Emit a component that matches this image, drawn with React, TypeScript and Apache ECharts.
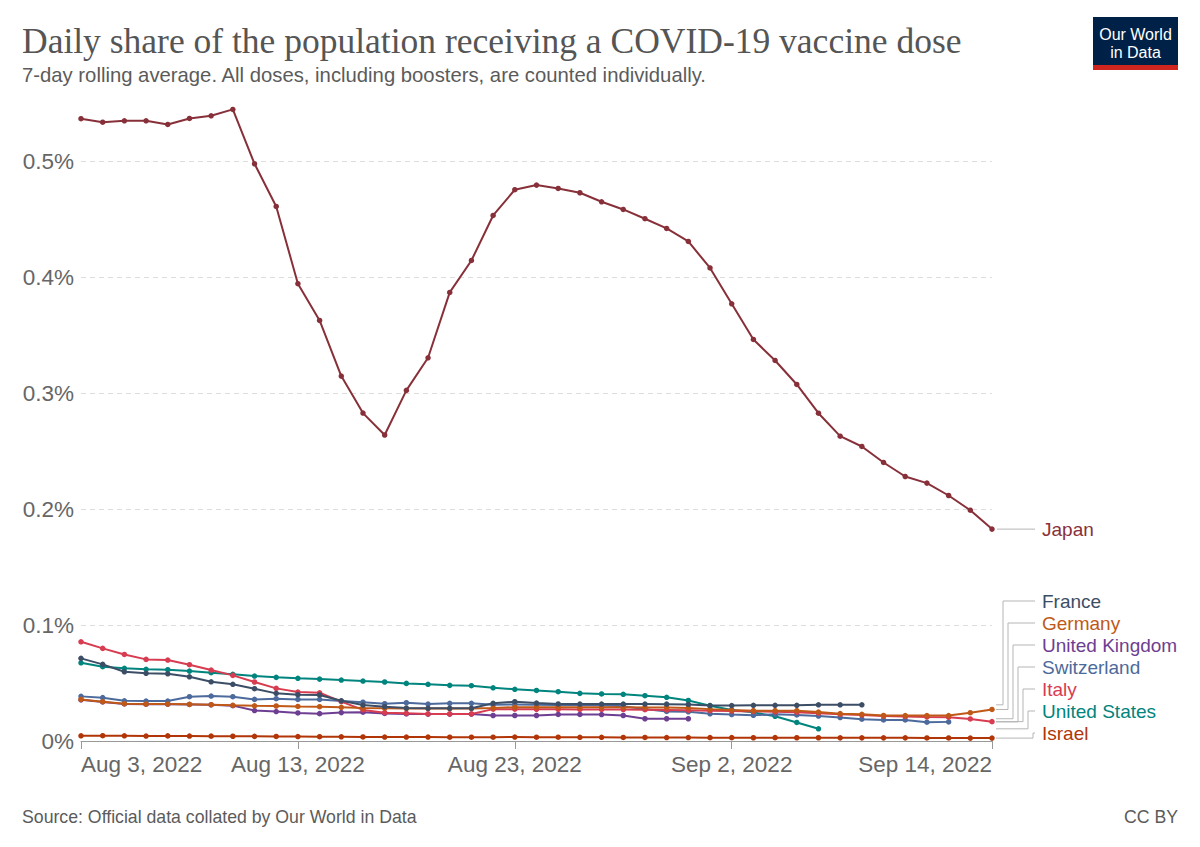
import React, { useEffect, useRef } from "react";
import * as echarts from "echarts";

const dates = [
  "2022-08-03", "2022-08-04", "2022-08-05", "2022-08-06", "2022-08-07", "2022-08-08", "2022-08-09",
  "2022-08-10", "2022-08-11", "2022-08-12", "2022-08-13", "2022-08-14", "2022-08-15", "2022-08-16",
  "2022-08-17", "2022-08-18", "2022-08-19", "2022-08-20", "2022-08-21", "2022-08-22", "2022-08-23",
  "2022-08-24", "2022-08-25", "2022-08-26", "2022-08-27", "2022-08-28", "2022-08-29", "2022-08-30",
  "2022-08-31", "2022-09-01", "2022-09-02", "2022-09-03", "2022-09-04", "2022-09-05", "2022-09-06",
  "2022-09-07", "2022-09-08", "2022-09-09", "2022-09-10", "2022-09-11", "2022-09-12", "2022-09-13",
  "2022-09-14",
];
const tickDates = ["2022-08-03", "2022-08-13", "2022-08-23", "2022-09-02", "2022-09-14"];
const tickLabels = ["Aug 3, 2022", "Aug 13, 2022", "Aug 23, 2022", "Sep 2, 2022", "Sep 14, 2022"];

const japan = [
  0.5369, 0.5339, 0.5351, 0.5351, 0.5319, 0.5371, 0.5394, 0.5449, 0.498, 0.4612,
  0.3945, 0.3628, 0.3148, 0.2829, 0.264, 0.3025, 0.3306, 0.387, 0.4146, 0.4534,
  0.4756, 0.4796, 0.4767, 0.473, 0.4652, 0.4586, 0.4506, 0.4422, 0.431, 0.4081,
  0.3772, 0.3464, 0.3283, 0.3076, 0.2828, 0.263, 0.2541, 0.2403, 0.2282, 0.2225,
  0.2118, 0.1991, 0.1828,
];
const france = [
  0.0713, 0.0661, 0.0597, 0.0584, 0.058, 0.0554, 0.0511, 0.0489, 0.0451, 0.0411,
  0.04, 0.0397, 0.0347, 0.031, 0.0296, 0.0284, 0.0282, 0.0282, 0.0282, 0.0325,
  0.0339, 0.0327, 0.032, 0.0319, 0.0319, 0.0319, 0.0319, 0.0318, 0.0315, 0.0306,
  0.0306, 0.0308, 0.0308, 0.0308, 0.0312, 0.0312, 0.0312,
];
const germany = [
  0.0359, 0.0339, 0.0322, 0.0319, 0.0319, 0.0316, 0.0313, 0.0308, 0.0304, 0.0302,
  0.0298, 0.0296, 0.0291, 0.0284, 0.0282, 0.028, 0.028, 0.028, 0.028, 0.0285,
  0.0292, 0.0292, 0.0292, 0.0291, 0.0291, 0.0291, 0.029, 0.0289, 0.0285, 0.0275,
  0.0267, 0.0262, 0.0262, 0.0262, 0.025, 0.0236, 0.023, 0.022, 0.0219, 0.0219,
  0.0219, 0.0244, 0.0272,
];
const unitedKingdom = [
  0.0355, 0.0337, 0.032, 0.0318, 0.0318, 0.0315, 0.0312, 0.0305, 0.0263, 0.0254,
  0.0242, 0.0236, 0.0245, 0.0249, 0.0238, 0.0234, 0.0232, 0.0232, 0.0232, 0.022,
  0.022, 0.022, 0.0229, 0.0229, 0.0228, 0.022, 0.0192, 0.0192, 0.0192,
];
const switzerland = [
  0.0385, 0.0374, 0.0347, 0.0345, 0.0345, 0.0382, 0.0388, 0.0382, 0.0359, 0.0365,
  0.0359, 0.0359, 0.0345, 0.0335, 0.0322, 0.033, 0.0319, 0.0325, 0.0325, 0.0312,
  0.0315, 0.0312, 0.031, 0.031, 0.0308, 0.03, 0.0275, 0.0255, 0.0252, 0.0235,
  0.0228, 0.0222, 0.023, 0.0225, 0.0215, 0.0202, 0.0188, 0.0182, 0.0182, 0.0162,
  0.0165,
];
const italy = [
  0.0856, 0.0799, 0.0747, 0.0704, 0.0698, 0.0658, 0.0612, 0.0566, 0.0509, 0.0454,
  0.0422, 0.0416, 0.034, 0.0268, 0.0244, 0.0239, 0.0233, 0.0233, 0.0233, 0.0275,
  0.0275, 0.0273, 0.0273, 0.0272, 0.0272, 0.0271, 0.027, 0.0268, 0.0265, 0.0262,
  0.0258, 0.0255, 0.0252, 0.0248, 0.024, 0.023, 0.0224, 0.0215, 0.0212, 0.0208,
  0.0205, 0.019, 0.0167,
];
const unitedStates = [
  0.0675, 0.0641, 0.0627, 0.0618, 0.0615, 0.0603, 0.0589, 0.0575, 0.056, 0.0549,
  0.0541, 0.0534, 0.0526, 0.0517, 0.0509, 0.0497, 0.0489, 0.048, 0.0477, 0.0459,
  0.0446, 0.0436, 0.0425, 0.0411, 0.0406, 0.0403, 0.0391, 0.0377, 0.035, 0.0305,
  0.0268, 0.0247, 0.0213, 0.016, 0.0105,
];
const israel = [
  0.0045, 0.0046, 0.0045, 0.0043, 0.0044, 0.0043, 0.0042, 0.0041, 0.004, 0.0039,
  0.0038, 0.0037, 0.0036, 0.0035, 0.0034, 0.0034, 0.0034, 0.0033, 0.0033, 0.0033,
  0.0034, 0.0033, 0.0033, 0.0032, 0.0032, 0.0031, 0.0031, 0.003, 0.003, 0.0029,
  0.0029, 0.0028, 0.0029, 0.0028, 0.0028, 0.0027, 0.0027, 0.0027, 0.0027, 0.0026,
  0.0026, 0.0025, 0.0025,
];

// drawing order (later on top)
const seriesDefs = [
  { name: "Israel", data: israel, color: "#b13507" },
  { name: "United States", data: unitedStates, color: "#00847e" },
  { name: "United Kingdom", data: unitedKingdom, color: "#6d3e91" },
  { name: "Switzerland", data: switzerland, color: "#4c6a9c" },
  { name: "Italy", data: italy, color: "#d73c50" },
  { name: "Germany", data: germany, color: "#c05917" },
  { name: "France", data: france, color: "#3c4e66" },
  { name: "Japan", data: japan, color: "#883039" },
];
// label stacking order at the bottom-right
const labelOrder = ["France", "Germany", "United Kingdom", "Switzerland", "Italy", "United States", "Israel"];

const SANS = "'Liberation Sans', Arial, sans-serif";
const SERIF = "'Liberation Serif', 'DejaVu Serif', serif";

export default function App() {
  const ref = useRef<HTMLDivElement>(null);

  useEffect(() => {
    if (!ref.current) return;
    const chart = echarts.init(ref.current, null, { renderer: "svg" });
    const tickIdx = tickDates.map((d) => dates.indexOf(d));
    const showTick = (i: number) => tickIdx.indexOf(i) >= 0;

    const option: any = {
      animation: false,
      backgroundColor: "#ffffff",
      grid: { left: 81, right: 208, top: 103.5, bottom: 106, containLabel: false },
      xAxis: {
        type: "category",
        data: dates,
        boundaryGap: false,
        axisLine: { show: true, lineStyle: { color: "#999", width: 1 } },
        axisTick: { show: true, interval: (i: number) => showTick(i), length: 8, lineStyle: { color: "#999" } },
        axisLabel: {
          interval: (i: number) => showTick(i),
          formatter: (v: string) => {
            const k = tickDates.indexOf(v);
            return k >= 0 ? tickLabels[k] : "";
          },
          fontFamily: SANS,
          fontSize: 22.5,
          color: "#666",
          margin: 12,
          alignMinLabel: "left",
          alignMaxLabel: "right",
        },
        splitLine: { show: false },
      },
      yAxis: {
        type: "value",
        min: 0,
        max: 0.55,
        interval: 0.1,
        axisLine: { show: false },
        axisTick: { show: false },
        axisLabel: {
          formatter: (v: number) => (v === 0 ? "0%" : v.toFixed(1) + "%"),
          fontFamily: SANS,
          fontSize: 22.5,
          color: "#666",
          margin: 7,
          showMaxLabel: false,
        },
        splitLine: {
          show: true,
          showMinLine: false,
          showMaxLine: false,
          lineStyle: { color: "#dddddd", type: [5, 4], width: 1 },
        },
      },
      series: seriesDefs.map((s) => ({
        name: s.name,
        type: "line",
        data: s.data,
        color: s.color,
        symbol: "circle",
        symbolSize: 5.5,
        showSymbol: true,
        lineStyle: { width: 2, color: s.color },
        itemStyle: { color: s.color },
        emphasis: { disabled: true },
      })),
      graphic: [],
    };
    chart.setOption(option);

    const lastIdx = dates.length - 1;
    const xEnd = (chart.convertToPixel({ gridIndex: 0 }, [lastIdx, 0]) as number[])[0];
    const yOf = (v: number) => (chart.convertToPixel({ gridIndex: 0 }, [lastIdx, v]) as number[])[1];
    const labelX = xEnd + 50;
    const connColor = "#b5b5b5";
    const g: any[] = [
      {
        type: "text",
        style: {
          text: "Daily share of the population receiving a COVID-19 vaccine dose",
          x: 22, y: 41, font: `35.5px ${SERIF}`, fill: "#555555", textVerticalAlign: "middle",
        },
      },
      {
        type: "text",
        style: {
          text: "7-day rolling average. All doses, including boosters, are counted individually.",
          x: 22, y: 75, font: `20.3px ${SANS}`, fill: "#5b5b5b", textVerticalAlign: "middle",
        },
      },
      { type: "rect", shape: { x: 1093, y: 17, width: 85, height: 53 }, style: { fill: "#002147" } },
      { type: "rect", shape: { x: 1093, y: 65, width: 85, height: 5 }, style: { fill: "#ce261e" } },
      {
        type: "text",
        style: { text: "Our World", x: 1135.5, y: 34, font: `16px ${SANS}`, fill: "#ffffff", textAlign: "center", textVerticalAlign: "middle" },
      },
      {
        type: "text",
        style: { text: "in Data", x: 1135.5, y: 52, font: `16px ${SANS}`, fill: "#ffffff", textAlign: "center", textVerticalAlign: "middle" },
      },
      {
        type: "text",
        style: { text: "Source: Official data collated by Our World in Data", x: 22, y: 817, font: `17.7px ${SANS}`, fill: "#5b5b5b", textVerticalAlign: "middle" },
      },
      {
        type: "text",
        style: { text: "CC BY", x: 1178, y: 817, font: `17.7px ${SANS}`, fill: "#5b5b5b", textAlign: "right", textVerticalAlign: "middle" },
      },
    ];

    // Japan label
    const jp = seriesDefs.find((s) => s.name === "Japan")!;
    const yJ = yOf(jp.data[jp.data.length - 1]);
    g.push({ type: "polyline", shape: { points: [[xEnd + 5, yJ], [labelX - 7, yJ]] }, style: { stroke: connColor, lineWidth: 1, fill: "none" } });
    g.push({ type: "text", style: { text: "Japan", x: labelX, y: yJ, font: `19px ${SANS}`, fill: jp.color, textVerticalAlign: "middle" } });

    const LABEL_TOP = 601;
    const LABEL_STEP = 22;
    labelOrder.forEach((name, k) => {
      const s = seriesDefs.find((d) => d.name === name)!;
      const yData = yOf(s.data[s.data.length - 1]);
      const yLab = LABEL_TOP + LABEL_STEP * k;
      const vx = xEnd + 11 + 5 * k;
      g.push({
        type: "polyline",
        shape: { points: [[xEnd + 4, yData], [vx, yData], [vx, yLab], [labelX - 7, yLab]] },
        style: { stroke: connColor, lineWidth: 1, fill: "none" },
      });
      g.push({ type: "text", style: { text: name, x: labelX, y: yLab, font: `19px ${SANS}`, fill: s.color, textVerticalAlign: "middle" } });
    });

    chart.setOption({ graphic: g });

    return () => chart.dispose();
  }, []);

  return (
    <div
      ref={ref}
      style={{ position: "fixed", left: 0, top: 0, width: 1200, height: 847, background: "#fff" }}
    />
  );
}
